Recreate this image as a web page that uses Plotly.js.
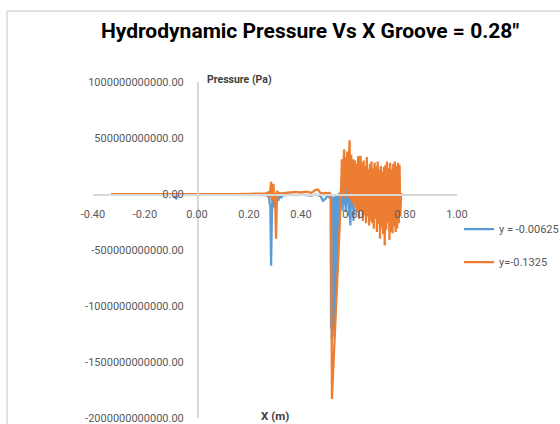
<!DOCTYPE html>
<html>
<head>
<meta charset="utf-8">
<script src="https://cdn.plot.ly/plotly-3.0.1.min.js"></script>
<style>html,body{margin:0;padding:0;background:#fff;}#chart{width:560px;height:424px;}</style>
</head>
<body>
<div id="chart"></div>
<script>
// ---- data ----
const seriesNames = ["y = -0.00625", "y=-0.1325"];

// shared x for the lead-in region (flat part, first spikes, small noise)
const xLead = [-0.33, -0.28, -0.22, -0.16, -0.11, -0.09, -0.085, -0.08, -0.075, -0.04, 0.0, 0.05, 0.10, 0.15, 0.20, 0.24, 0.265,
  0.272, 0.276, 0.279, 0.282, 0.285, 0.288, 0.291, 0.294, 0.297, 0.300, 0.304, 0.308, 0.313, 0.318, 0.324, 0.330,
  0.34, 0.36, 0.38, 0.40, 0.42, 0.44, 0.455, 0.465, 0.475, 0.485, 0.495, 0.503];
const yBlueLead = [0, 0, 0, 0, 0, -5e9, -3e10, -4e10, -1e10, 0, 0, 0, 0, 0, -5e9, -8e9, -1e10,
  -2e10, 1e10, -8e10, -1e11, -6.4e11, -2e11, 2e10, -5e10, -1.2e11, -2e10, -1e11, -3e10, -6e10, -1e10, -3e10, -1e10,
  -1e10, -5e9, -1e10, -5e9, -1e10, -1.5e10, -5e9, -1e10, -2e10, -6e10, -4e10, -1e10];
const yOrangeLead = [0, 0, 0, 0, 0, 0, 0, 0, 0, 0, 0, 0, 0, 0, 2e9, 3e9, 5e9,
  1e10, 2e10, -3e10, 4e10, 1.1e11, -6e10, 2e10, 9e10, -4e10, 1e10, -4e11, 3e10, -2e10, 1e10, 5e9, 5e9,
  1e10, 1.5e10, 2e10, 1.5e10, 2e10, 1e10, 3.5e10, 4e10, 1e10, 5e9, 1e10, 5e9];

// deep negative region (blue fills the inside of the orange V)
const xBlueDeep = [0.509, 0.514, 0.5155, 0.517, 0.5185, 0.520, 0.5215, 0.523, 0.5245, 0.526, 0.5275, 0.529,
  0.5305, 0.532, 0.5335, 0.535, 0.5365, 0.538, 0.5395, 0.541, 0.5425, 0.544, 0.5455, 0.547, 0.5485, 0.550,
  0.5515, 0.553];
const yBlueDeep = [-3e10, -2e10, -1.2e12, -2e10, -1.3e12, -5e10, -1.28e12, -3e10, -1.22e12, -6e10, -1.15e12, -2e10,
  -1.17e12, -4e10, -1.02e12, -1e10, -0.87e12, -3e10, -0.72e12, 0, -0.57e12, -2e10, -0.42e12, 1e10, -0.27e12, 0,
  -0.12e12, 2e10];
const xOrangeDeep = [0.509, 0.514, 0.5155, 0.519, 0.554];
const yOrangeDeep = [1e10, 0, -2e10, -1.83e12, -1e10];

// dense oscillation region (shared x)
const xDense = [0.557,0.560,0.563,0.566,0.569,0.572,0.575,0.578,0.581,0.584,
  0.587,0.590,0.593,0.596,0.599,0.602,0.605,0.608,0.611,0.614,
  0.617,0.620,0.623,0.626,0.629,0.632,0.635,0.638,0.641,0.644,
  0.647,0.650,0.653,0.656,0.659,0.662,0.665,0.668,0.671,0.674,
  0.677,0.680,0.683,0.686,0.689,0.692,0.695,0.698,0.701,0.704,
  0.707,0.710,0.713,0.716,0.719,0.722,0.725,0.728,0.731,0.734,
  0.737,0.740,0.743,0.746,0.749,0.752,0.755,0.758,0.761,0.764,
  0.767,0.770,0.773,0.776,0.779,0.782,0.785];
const yBlueDense = [1.3e11,-1.5e11,0.8e11,-1.0e11,1.2e11,-1.6e11,0.6e11,-0.9e11,1.0e11,-2.0e11,
  0.5e11,-2.8e11,0.9e11,-1.2e11,0.7e11,-2.4e11,1.0e11,-0.8e11,0.6e11,-1.7e11,
  0.8e11,-1.0e11,0.5e11,-1.3e11,0.9e11,-0.7e11,0.6e11,-1.2e11,0.8e11,-0.9e11,
  0.7e11,-1.5e11,0.6e11,-1.1e11,0.9e11,-1.3e11,0.5e11,-1.0e11,0.8e11,-1.4e11,
  0.6e11,-1.1e11,0.9e11,-1.2e11,0.7e11,-1.0e11,0.6e11,-1.3e11,0.8e11,-1.1e11,
  0.5e11,-0.9e11,0.7e11,-1.2e11,0.6e11,-1.0e11,0.8e11,-1.1e11,0.5e11,-0.8e11,
  0.7e11,-1.2e11,0.6e11,-0.9e11,0.8e11,-1.0e11,0.5e11,-1.1e11,0.7e11,-0.9e11,
  0.6e11,-1.0e11,0.5e11,-0.8e11,0.4e11,-0.5e11,0];
const yOrangeDense = [3.1e11,-0.2e11,2.6e11,4.0e11,-0.4e11,3.3e11,0.5e11,3.8e11,-0.3e11,2.9e11,
  4.8e11,-0.5e11,3.5e11,-0.8e11,2.4e11,3.1e11,-1.2e11,3.0e11,-0.6e11,2.7e11,
  -1.6e11,3.4e11,-2.2e11,2.1e11,3.4e11,-1.5e11,2.8e11,-2.4e11,3.0e11,-1.9e11,
  2.5e11,-2.6e11,3.3e11,-2.0e11,2.2e11,-2.8e11,2.7e11,-2.4e11,2.9e11,-2.6e11,
  2.3e11,-3.1e11,2.8e11,-2.2e11,2.5e11,-3.4e11,2.9e11,-2.7e11,2.2e11,-4.0e11,
  2.5e11,-3.0e11,2.0e11,-3.6e11,2.4e11,-4.6e11,2.6e11,-3.2e11,2.9e11,-2.6e11,
  2.3e11,-4.1e11,2.8e11,-3.4e11,2.2e11,-3.5e11,2.7e11,-2.9e11,2.9e11,-3.4e11,
  2.5e11,-3.1e11,2.8e11,-2.6e11,2.6e11,-2.0e11,1.0e10];

const yTickVals = [1e12, 5e11, 0, -5e11, -1e12, -1.5e12, -2e12];
const yTickText = ["1000000000000.00", "500000000000.00", "0.00", "-500000000000.00",
  "-1000000000000.00", "-1500000000000.00", "-2000000000000.00"];
const xTickVals = [-0.4, -0.2, 0, 0.2, 0.4, 0.6, 0.8, 1.0];
const xTickText = ["-0.40", "-0.20", "0.00", "0.20", "0.40", "0.60", "0.80", "1.00"];

// ---- chart ----
const FONT = "Roboto, Arial, sans-serif";
const xMin = -0.4, xMax = 1.0, yMin = -2e12, yMax = 1e12;
const L = 93, R = 457, T = 82, B = 418;   // plot area in pixels
const px2paperX = p => (p - L) / (R - L);
const px2paperY = p => (B - p) / (B - T);

const traces = [
  {
    type: "scatter", mode: "lines", name: seriesNames[0], legendgroup: "a",
    x: xLead.concat(xBlueDeep, xDense),
    y: yBlueLead.concat(yBlueDeep, yBlueDense),
    line: {color: "#5B9BD5", width: 2.25, simplify: false}
  },
  {
    type: "scatter", mode: "lines", name: seriesNames[1], legendgroup: "b",
    x: xLead.concat(xOrangeDeep, xDense),
    y: yOrangeLead.concat(yOrangeDeep, yOrangeDense),
    line: {color: "#ED7D31", width: 2.25, simplify: false}
  }
];

const layout = {
  width: 560, height: 424,
  margin: {l: L, r: 560 - R, t: T, b: 424 - B, pad: 0, autoexpand: false},
  paper_bgcolor: "#fff", plot_bgcolor: "rgba(0,0,0,0)",
  font: {family: FONT, color: "#595959", size: 11},
  title: {
    text: "<b>Hydrodynamic Pressure Vs X Groove = 0.28\"</b>",
    font: {family: FONT, size: 21, color: "#000"},
    x: 310 / 560, xref: "container", xanchor: "center",
    y: 1 - 31 / 424, yref: "container", yanchor: "middle"
  },
  showlegend: true,
  legend: {
    xref: "container", yref: "container",
    x: 459 / 560, y: 1 - 214.5 / 424, xanchor: "left", yanchor: "top",
    font: {family: FONT, size: 11, color: "#595959"},
    traceorder: "grouped", tracegroupgap: 14,
    bgcolor: "rgba(0,0,0,0)"
  },
  xaxis: {
    range: [xMin, xMax], anchor: "free", position: (0 - yMin) / (yMax - yMin),
    showline: true, linecolor: "#D9D9D9", linewidth: 1.5,
    showgrid: false, zeroline: false, ticks: "",
    tickvals: xTickVals, ticktext: xTickText, ticklabelstandoff: 9,
    tickfont: {family: FONT, size: 11, color: "#595959"}
  },
  yaxis: {
    range: [yMin, yMax], anchor: "free", position: (0 - xMin) / (xMax - xMin),
    showline: true, linecolor: "#D9D9D9", linewidth: 1.5,
    showgrid: false, zeroline: false, ticks: "", ticklabeloverflow: "allow",
    tickvals: yTickVals, ticktext: yTickText, ticklabelstandoff: 11,
    tickfont: {family: FONT, size: 11, color: "#595959"}
  },
  annotations: [
    {text: "<b>Pressure (Pa)</b>", xref: "paper", yref: "paper",
     x: px2paperX(205), y: px2paperY(79), xanchor: "left", yanchor: "middle",
     showarrow: false, font: {family: FONT, size: 10.5, color: "#404040"}},
    {text: "<b>X (m)</b>", xref: "paper", yref: "paper",
     x: px2paperX(275), y: px2paperY(416), xanchor: "center", yanchor: "middle",
     showarrow: false, font: {family: FONT, size: 11.5, color: "#404040"}}
  ],
  shapes: [
    {type: "line", xref: "paper", yref: "paper",
     x0: px2paperX(7), x1: px2paperX(7), y0: px2paperY(11), y1: px2paperY(440),
     line: {color: "#D9D9D9", width: 1.5}, layer: "above"},
    {type: "line", xref: "paper", yref: "paper",
     x0: px2paperX(7), x1: px2paperX(600), y0: px2paperY(11), y1: px2paperY(11),
     line: {color: "#D9D9D9", width: 1.5}, layer: "above"}
  ]
};

Plotly.newPlot("chart", traces, layout, {displayModeBar: false, staticPlot: true});
</script>
</body>
</html>
